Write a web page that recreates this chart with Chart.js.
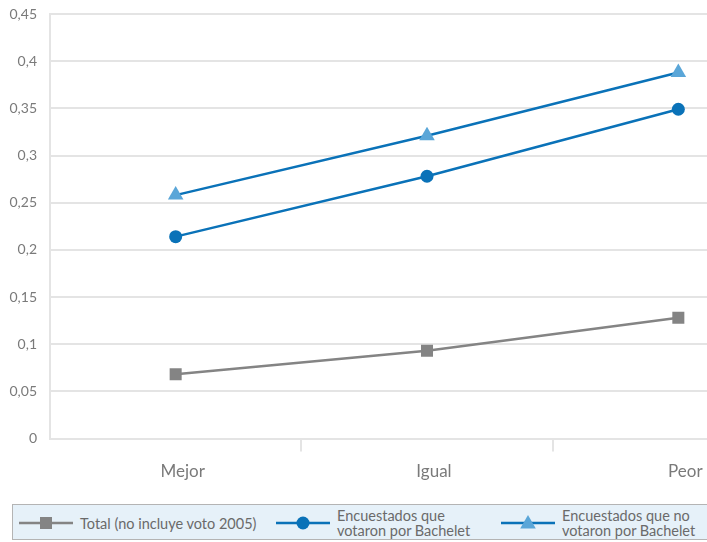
<!DOCTYPE html>
<html>
<head>
<meta charset="utf-8">
<script src="https://cdn.jsdelivr.net/npm/chart.js@4"></script>
<style>
  html, body { margin: 0; padding: 0; background: #fff; }
  #wrap { position: relative; width: 707px; height: 542px; overflow: hidden; font-family: Lato, "Open Sans", sans-serif; }
  #myChart { position: absolute; left: 0; top: 0; }
  #legend { position: absolute; left: 12px; top: 504px; width: 710px; height: 36px; background: #e6f1f9; border: 1.5px solid #b4b4b4; box-sizing: border-box; }
  .item { position: absolute; top: 0; height: 36px; display: flex; align-items: center; }
  .item svg { flex: none; }
  .item span { margin-left: 7px; font-size: 14.5px; line-height: 15px; color: #6a6a6a; white-space: pre; }
</style>
</head>
<body>
<div id="wrap">
  <canvas id="myChart" width="830" height="500"></canvas>
  <div id="legend"></div>
</div>
<script>
const categories = ['Mejor', 'Igual', 'Peor'];
const seriesNames = ['Total (no incluye voto 2005)', 'Encuestados que\nvotaron por Bachelet', 'Encuestados que no\nvotaron por Bachelet'];
const totalValues = [0.068, 0.093, 0.128];
const bacheletValues = [0.214, 0.278, 0.349];
const noBacheletValues = [0.258, 0.321, 0.388];
const yTicks = [0, 0.05, 0.1, 0.15, 0.2, 0.25, 0.3, 0.35, 0.4, 0.45];

const gridColor = '#e4e4e4';
const textColor = '#7a7a7a';

const ctx = document.getElementById('myChart');

const chart = new Chart(ctx, {
    type: 'line',
    data: {
        labels: categories,
        datasets: [
            {
                label: seriesNames[0],
                data: totalValues,
                borderColor: '#848484',
                backgroundColor: '#848484',
                borderWidth: 2.5,
                pointStyle: 'rect',
                pointRadius: 8.5,
                pointBorderWidth: 0
            },
            {
                label: seriesNames[1],
                data: bacheletValues,
                borderColor: '#0a72b8',
                backgroundColor: '#0a72b8',
                borderWidth: 2.5,
                pointStyle: 'circle',
                pointRadius: 6.5,
                pointBorderWidth: 0
            },
            {
                label: seriesNames[2],
                data: noBacheletValues,
                borderColor: '#0a72b8',
                backgroundColor: '#5aa6d8',
                borderWidth: 2.5,
                pointStyle: 'triangle',
                pointRadius: 9,
                pointBorderWidth: 0
            }
        ]
    },
    options: {
        responsive: false,
        animation: false,
        layout: { autoPadding: false, padding: { top: 14, right: 26, left: 0, bottom: 0 } },
        scales: {
            x: {
                offset: true,
                grid: {
                    offset: true,
                    drawOnChartArea: false,
                    drawTicks: true,
                    tickLength: 13,
                    lineWidth: 2,
                    color: c => (c.index === 0 ? 'rgba(0,0,0,0)' : gridColor)
                },
                border: { color: gridColor, width: 2 },
                ticks: {
                    color: textColor,
                    font: { family: 'Lato', size: 17 },
                    padding: 10,
                    labelOffset: 7,
                    maxRotation: 0
                },
                afterFit: s => { s.height = 500 - 438.5; }
            },
            y: {
                min: 0,
                max: 0.45,
                afterBuildTicks: s => { s.ticks = yTicks.map(v => ({ value: v })); },
                grid: { color: gridColor, lineWidth: 2, drawTicks: false },
                border: { color: gridColor, width: 2 },
                ticks: {
                    color: textColor,
                    font: { family: 'Lato', size: 14 },
                    padding: 13,
                    callback: v => String(v).replace('.', ',')
                },
                afterFit: s => {
                    s.width = 50;
                    s.paddingTop = 0;
                    s.paddingBottom = 0;
                }
            }
        },
        plugins: {
            legend: { display: false },
            tooltip: { enabled: false }
        }
    }
});

// legend built from the same series
const legendX = [6, 263, 488];
const legend = document.getElementById('legend');
chart.data.datasets.forEach((ds, i) => {
    const item = document.createElement('div');
    item.className = 'item';
    item.style.left = legendX[i] + 'px';
    let marker = '';
    if (ds.pointStyle === 'rect') {
        marker = '<rect x="21" y="5" width="12" height="12" fill="' + ds.backgroundColor + '"/>';
    } else if (ds.pointStyle === 'circle') {
        marker = '<circle cx="27" cy="11" r="6.5" fill="' + ds.backgroundColor + '"/>';
    } else {
        marker = '<polygon points="27,3 34.8,16.5 19.2,16.5" fill="' + ds.backgroundColor + '"/>';
    }
    item.innerHTML = '<svg width="54" height="22"><line x1="0" y1="11" x2="54" y2="11" stroke="' + ds.borderColor + '" stroke-width="2.5"/>' + marker + '</svg><span></span>';
    item.querySelector('span').textContent = ds.label;
    legend.appendChild(item);
});
</script>
</body>
</html>
